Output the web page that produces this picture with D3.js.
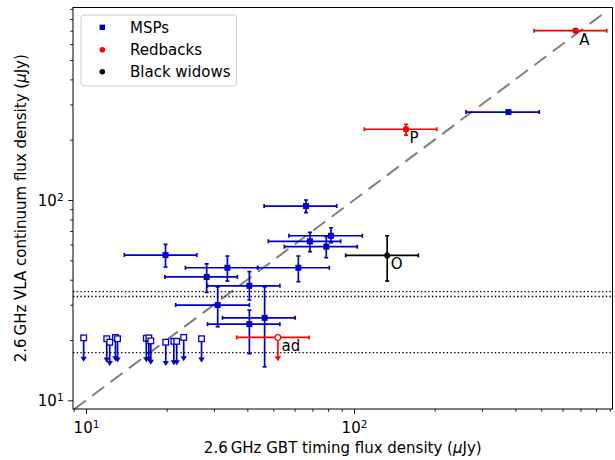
<!DOCTYPE html>
<html><head><meta charset="utf-8">
<script src="https://cdn.jsdelivr.net/npm/d3@7"></script>
<style>body{margin:0;background:#fff;} svg{display:block;font-family:"DejaVu Sans",sans-serif;}</style>
</head><body><svg id="c" width="615" height="460"></svg>
<script>
// ---------- data ----------
const xDomain = [8.943, 921.7];
const yDomain = [9.05, 914];
const xMajorTicks = [10, 100];
const yMajorTicks = [10, 100];
const xAxisLabelParts = ["2.6\u2009GHz GBT timing flux density (", "\u03BC", "Jy)"];
const yAxisLabelParts = ["2.6\u2009GHz VLA continuum flux density (", "\u03BC", "Jy)"];
const legendLabels = ["MSPs", "Redbacks", "Black widows"];

// MSPs with detections
const mspX   = [377, 66.2, 19.8, 33.7, 62.0, 28.2, 40.7, 31.0, 46.4, 40.7, 82.1, 68.5, 78.8];
const mspXLo = [261.8, 46.2, 13.9, 23.5, 43.7, 19.7, 28.4, 21.6, 32.3, 28.4, 57.2, 47.9, 55.0];
const mspXHi = [491, 86.2, 25.9, 43.7, 80.9, 36.7, 52.9, 40.7, 60.3, 52.9, 107.4, 89.2, 102.9];
const mspY   = [274.8, 93.3, 53.1, 45.9, 45.9, 41.3, 37.3, 29.9, 25.8, 24.0, 66.3, 62.2, 58.5];
const mspYLo = [274.8, 86.4, 46.3, 39.4, 39.1, 34.6, 31.7, 23.3, 14.7, 17.1, 61.2, 55.2, 51.5];
const mspYHi = [274.8, 100, 60.1, 52.5, 52.5, 48.0, 43.9, 36.8, 36.8, 28.2, 72.7, 69.0, 65.6];

// MSP upper limits
const mspLimX = [9.80, 11.95, 12.26, 12.88, 13.11, 16.79, 17.16, 17.45, 19.84, 21.27, 21.80, 23.15, 26.98];
const mspLimY = [20.5, 20.3, 19.5, 20.6, 20.3, 20.4, 20.5, 19.8, 19.5, 19.7, 19.7, 20.6, 20.3];

// Redbacks
const rbNames = ["A", "P"];
const rbX   = [671, 156.3];
const rbXLo = [470, 109.3];
const rbXHi = [877, 203.5];
const rbY   = [700, 225.5];
const rbYLo = [700, 211];
const rbYHi = [700, 238.8];
// Redback upper limit
const rbLimNames = ["ad"];
const rbLimX   = [52.0];
const rbLimXLo = [36.5];
const rbLimXHi = [68.0];
const rbLimY   = [20.6];

// Black widows
const bwNames = ["O"];
const bwX   = [133];
const bwXLo = [93.1];
const bwXHi = [173.8];
const bwY   = [52.9];
const bwYLo = [39.4];
const bwYHi = [66.3];

// reference lines
const equalityLine = [9, 845];
const thresholds = [34.9, 33.0, 17.3];
const limitArrowFactor = 0.76;

// ---------- drawing ----------
const FS = "15px";
const colMSP = "#0000CD", colRB = "#FF0000", colBW = "#000000";
const svg = d3.select("#c");
const L = 73, R = 612.5, T = 7.5, B = 409;
const x = d3.scaleLog().domain(xDomain).range([L, R]);
const y = d3.scaleLog().domain(yDomain).range([B, T]);

function minorTicks(dom){
  const out=[];
  for(let e=-1;e<5;e++) for(let m=2;m<=9;m++){const v=m*Math.pow(10,e); if(v>=dom[0]&&v<=dom[1]) out.push(v);}
  return out;
}

const plot = svg.append("g");
plot.append("defs").append("clipPath").attr("id","clip").append("rect")
  .attr("x",L).attr("y",T).attr("width",R-L).attr("height",B-T);
const inner = plot.append("g").attr("clip-path","url(#clip)");

// equality line
inner.append("line")
  .attr("x1",x(equalityLine[0])).attr("y1",y(equalityLine[0]))
  .attr("x2",x(equalityLine[1])).attr("y2",y(equalityLine[1]))
  .attr("stroke","#808080").attr("stroke-width",2).attr("stroke-dasharray","15,8");

// thresholds
inner.selectAll("line.thr").data(thresholds).join("line").attr("class","thr")
  .attr("x1",L).attr("x2",R).attr("y1",d=>y(d)).attr("y2",d=>y(d))
  .attr("stroke","#000").attr("stroke-width",1.4).attr("stroke-dasharray","1.4,2.3");

function errorbars(g, X, XLo, XHi, Y, YLo, YHi, color){
  const cap=2, lw=1.7;
  X.forEach((xv,i)=>{
    const px=x(xv), py=y(Y[i]);
    const x0=x(XLo[i]), x1=x(XHi[i]), y0=y(YLo[i]), y1=y(YHi[i]);
    const gg=g.append("g").attr("stroke",color).attr("stroke-width",lw);
    gg.append("line").attr("x1",x0).attr("x2",x1).attr("y1",py).attr("y2",py);
    gg.append("line").attr("x1",x0).attr("x2",x0).attr("y1",py-cap).attr("y2",py+cap);
    gg.append("line").attr("x1",x1).attr("x2",x1).attr("y1",py-cap).attr("y2",py+cap);
    if(Math.abs(y0-y1)>0.5){
      gg.append("line").attr("x1",px).attr("x2",px).attr("y1",y0).attr("y2",y1);
      gg.append("line").attr("x1",px-cap).attr("x2",px+cap).attr("y1",y0).attr("y2",y0);
      gg.append("line").attr("x1",px-cap).attr("x2",px+cap).attr("y1",y1).attr("y2",y1);
    }
  });
}
function limitArrow(g, xv, yv, color){
  const px=x(xv), py=y(yv), pe=y(yv*limitArrowFactor);
  g.append("line").attr("x1",px).attr("x2",px).attr("y1",py).attr("y2",pe-3)
    .attr("stroke",color).attr("stroke-width",1.7);
  g.append("path").attr("d",`M${px-3.2},${pe-5}L${px+3.2},${pe-5}L${px},${pe}Z`).attr("fill",color);
}

const marks = inner.append("g");
// MSP errorbars + markers
errorbars(marks, mspX, mspXLo, mspXHi, mspY, mspYLo, mspYHi, colMSP);
marks.selectAll("rect.msp").data(mspX).join("rect").attr("class","msp")
  .attr("x",(d,i)=>x(d)-3).attr("y",(d,i)=>y(mspY[i])-3).attr("width",6).attr("height",6)
  .attr("fill",colMSP);
// MSP upper limits
mspLimX.forEach((d,i)=>limitArrow(marks,d,mspLimY[i],colMSP));
marks.selectAll("rect.lim").data(mspLimX).join("rect").attr("class","lim")
  .attr("x",d=>x(d)-2.8).attr("y",(d,i)=>y(mspLimY[i])-2.8).attr("width",5.6).attr("height",5.6)
  .attr("fill","#fff").attr("stroke",colMSP).attr("stroke-width",1.3);

// Redbacks
errorbars(marks, rbX, rbXLo, rbXHi, rbY, rbYLo, rbYHi, colRB);
marks.selectAll("circle.rb").data(rbX).join("circle").attr("class","rb")
  .attr("cx",d=>x(d)).attr("cy",(d,i)=>y(rbY[i])).attr("r",3.2).attr("fill",colRB);
errorbars(marks, rbLimX, rbLimXLo, rbLimXHi, rbLimY, rbLimY, rbLimY, colRB);
rbLimX.forEach((d,i)=>limitArrow(marks,d,rbLimY[i],colRB));
marks.selectAll("circle.rbl").data(rbLimX).join("circle").attr("class","rbl")
  .attr("cx",d=>x(d)).attr("cy",(d,i)=>y(rbLimY[i])).attr("r",2.8)
  .attr("fill","#fff").attr("stroke",colRB).attr("stroke-width",1.2);

// Black widows
errorbars(marks, bwX, bwXLo, bwXHi, bwY, bwYLo, bwYHi, colBW);
marks.selectAll("circle.bw").data(bwX).join("circle").attr("class","bw")
  .attr("cx",d=>x(d)).attr("cy",(d,i)=>y(bwY[i])).attr("r",3).attr("fill",colBW);

// point labels
const lab = plot.append("g").attr("font-size",FS).attr("fill","#000");
function names(N, X, Y){
  N.forEach((n,i)=>lab.append("text").attr("x",x(X[i])+3.6).attr("y",y(Y[i])+14).text(n));
}
names(rbNames, rbX, rbY); names(rbLimNames, rbLimX, rbLimY); names(bwNames, bwX, bwY);

// axes
const xa = svg.append("g").attr("transform",`translate(0,${B})`);
xa.call(d3.axisBottom(x).tickValues(minorTicks(xDomain)).tickFormat("").tickSize(2.8).tickSizeOuter(0));
const xaM = svg.append("g").attr("transform",`translate(0,${B})`);
xaM.call(d3.axisBottom(x).tickValues(xMajorTicks).tickSize(4.9).tickSizeOuter(0).tickPadding(9));
const ya = svg.append("g").attr("transform",`translate(${L},0)`);
ya.call(d3.axisLeft(y).tickValues(minorTicks(yDomain)).tickFormat("").tickSize(2.8).tickSizeOuter(0));
const yaM = svg.append("g").attr("transform",`translate(${L},0)`);
yaM.call(d3.axisLeft(y).tickValues(yMajorTicks).tickSize(4.9).tickSizeOuter(0).tickPadding(4.5));
[xa,xaM,ya,yaM].forEach(g=>{g.select(".domain").remove(); g.selectAll("line").attr("stroke","#000").attr("stroke-width",0.9);});
function supLabel(sel){
  sel.selectAll(".tick text").each(function(d){
    const t=d3.select(this); t.text("");
    t.attr("font-size",FS).attr("font-family","DejaVu Sans").attr("fill","#000");
    t.append("tspan").text("10");
    t.append("tspan").attr("dy","-0.45em").attr("font-size","10.5px").text(Math.round(Math.log10(d)));
  });
}
supLabel(xaM); supLabel(yaM);
xaM.selectAll(".tick text").attr("dy",null).attr("y",23.5);
yaM.selectAll(".tick text").attr("dy",null).attr("y",5.3);

// frame
svg.append("rect").attr("x",L).attr("y",T).attr("width",R-L).attr("height",B-T)
  .attr("fill","none").attr("stroke","#000").attr("stroke-width",1);

// axis labels
function richLabel(t, parts){
  t.append("tspan").text(parts[0]);
  t.append("tspan").attr("font-style","italic").text(parts[1]);
  t.append("tspan").text(parts[2]);
}
const xl = svg.append("text").attr("x",(L+R)/2).attr("y",453).attr("text-anchor","middle")
  .attr("font-size",FS);
richLabel(xl, xAxisLabelParts);
const yl = svg.append("text").attr("transform",`translate(26,${(T+B)/2}) rotate(-90)`).attr("text-anchor","middle")
  .attr("font-size",FS);
richLabel(yl, yAxisLabelParts);

// legend
const lg = svg.append("g");
lg.append("rect").attr("x",81).attr("y",15).attr("width",155.5).attr("height",71).attr("rx",3)
  .attr("fill","#fff").attr("fill-opacity",0.8).attr("stroke","#cccccc").attr("stroke-width",1);
const lgCol=[colMSP,colRB,colBW], lgY=[27.3,49.7,71.7];
legendLabels.forEach((t,i)=>{
  if(i===0) lg.append("rect").attr("x",102.3-2.7).attr("y",lgY[i]-2.7).attr("width",5.4).attr("height",5.4).attr("fill",lgCol[i]);
  else lg.append("circle").attr("cx",102.3).attr("cy",lgY[i]).attr("r",2.8).attr("fill",lgCol[i]);
  lg.append("text").attr("x",130).attr("y",lgY[i]+5.4).attr("font-size",FS).text(t);
});
</script></body></html>
